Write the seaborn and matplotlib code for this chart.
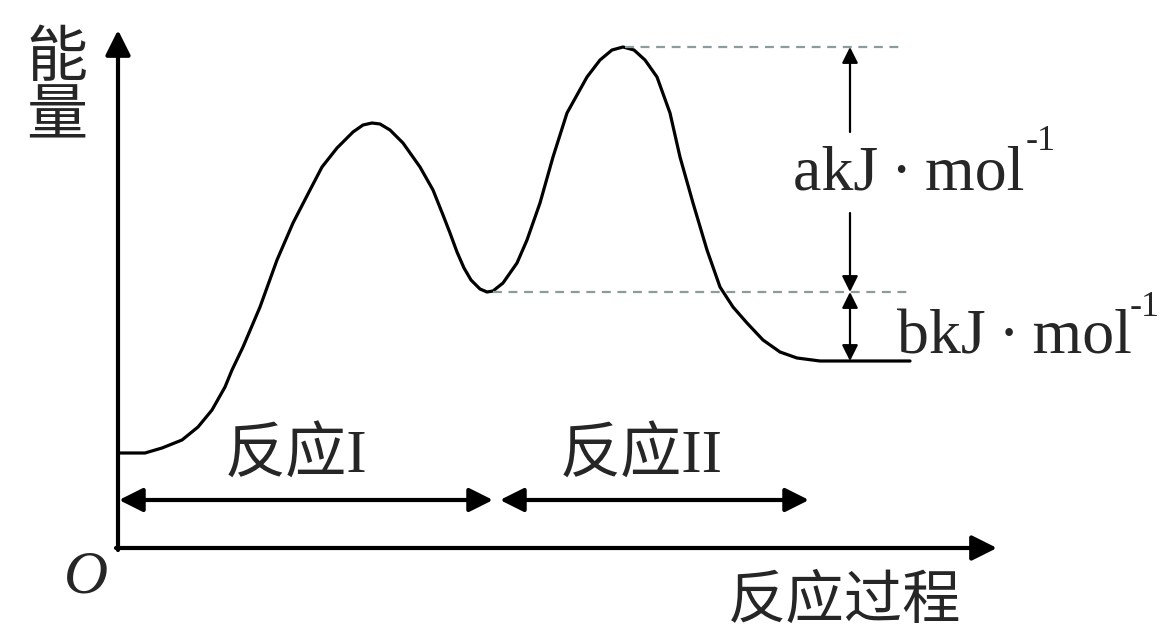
import matplotlib
matplotlib.use("Agg")
import matplotlib.pyplot as plt
import seaborn as sns
import pandas as pd

# 能量曲线上读出的点（按原图像素坐标，y 向下）
curve_x = [118, 145, 162, 182, 198, 212, 225, 232, 243, 260, 277, 293, 310, 322, 337, 353,
           363, 372, 380, 390, 403, 420, 433, 443, 450, 457, 464, 471, 480, 487, 493, 503,
           517, 527, 540, 553, 567, 587, 600, 612, 623, 634, 645, 657, 670, 680, 693, 707,
           720, 733, 747, 763, 780, 797, 820, 910]
curve_y = [453, 453, 448, 440, 427, 410, 387, 370, 347, 307, 260, 223, 190, 167, 148, 132,
           125, 123, 124, 130, 143, 167, 190, 215, 233, 252, 268, 280, 289, 292, 291, 283,
           263, 240, 203, 157, 113, 77, 60, 50, 47, 50, 60, 77, 113, 157, 203, 250,
           287, 307, 323, 340, 352, 358, 361, 361]

# 能量水平
peak_level = 47
mid_level = 292
end_level = 361

# 文字
y_label = "能\n量"
x_label = "反应过程"
origin_label = "O"
step_labels = ["反应I", "反应II"]
a_label = "akJ\u2009·\u2009mol"
b_label = "bkJ\u2009·\u2009mol"
unit_sup = "-1"

sns.set_theme(style="white")
plt.rcParams['font.family'] = ['Liberation Serif', 'Noto Sans CJK SC']

fig = plt.figure(figsize=(11.63, 6.33), dpi=100)
ax = fig.add_axes([0, 0, 1, 1])
ax.set_xlim(0, 1163)
ax.set_ylim(633, 0)
ax.set_axis_off()

df = pd.DataFrame({"x": curve_x, "y": curve_y})
sns.lineplot(data=df, x="x", y="y", sort=False, estimator=None, color="black", lw=2.3, ax=ax)

# 坐标轴箭头
ax_kw = dict(arrowstyle="-|>", color="black", lw=3, mutation_scale=38, shrinkA=0, shrinkB=0)
ax.annotate("", xy=(118, 30), xytext=(118, 550), arrowprops=ax_kw)
ax.annotate("", xy=(997, 548), xytext=(116, 548), arrowprops=ax_kw)

# 虚线
dash_c = "#8a9c9c"
ax.plot([625, 900], [peak_level, peak_level], ls=(0, (4, 3)), color=dash_c, lw=1.6)
ax.plot([493, 907], [mid_level, mid_level], ls=(0, (4, 3)), color=dash_c, lw=1.6)

# a、b 标注箭头
thin = dict(color="black", lw=1.6, mutation_scale=24, shrinkA=0, shrinkB=0)
ax.annotate("", xy=(850, peak_level), xytext=(850, 132), arrowprops=dict(arrowstyle="-|>", **thin))
ax.annotate("", xy=(850, mid_level), xytext=(850, 213), arrowprops=dict(arrowstyle="-|>", **thin))
ax.annotate("", xy=(850, end_level), xytext=(850, mid_level), arrowprops=dict(arrowstyle="<|-|>", **thin))

ax.text(793, 190, a_label, fontsize=46, va="baseline", ha="left")
ax.text(1026, 150, unit_sup, fontsize=26, va="baseline", ha="left")
ax.text(897, 354, b_label, fontsize=46, va="baseline", ha="left")
ax.text(1130, 316, unit_sup, fontsize=26, va="baseline", ha="left")

# 反应 I / II 区间
ax_kw2 = dict(arrowstyle="<|-|>", color="black", lw=3, mutation_scale=36, shrinkA=0, shrinkB=0)
ax.annotate("", xy=(493, 500), xytext=(119, 500), arrowprops=ax_kw2)
ax.annotate("", xy=(809, 500), xytext=(500, 500), arrowprops=ax_kw2)
ax.text(225, 457, step_labels[0], fontsize=44, va="center", ha="left")
ax.text(560, 457, step_labels[1], fontsize=44, va="center", ha="left")

# 轴标签
ax.text(57, 90, y_label, fontsize=44, va="center", ha="center", linespacing=1.05)
ax.text(728, 603, x_label, fontsize=42, va="center", ha="left")
ax.text(86, 578, origin_label, fontsize=44, va="center", ha="center", style="italic")

fig.savefig("out.png", dpi=100)
